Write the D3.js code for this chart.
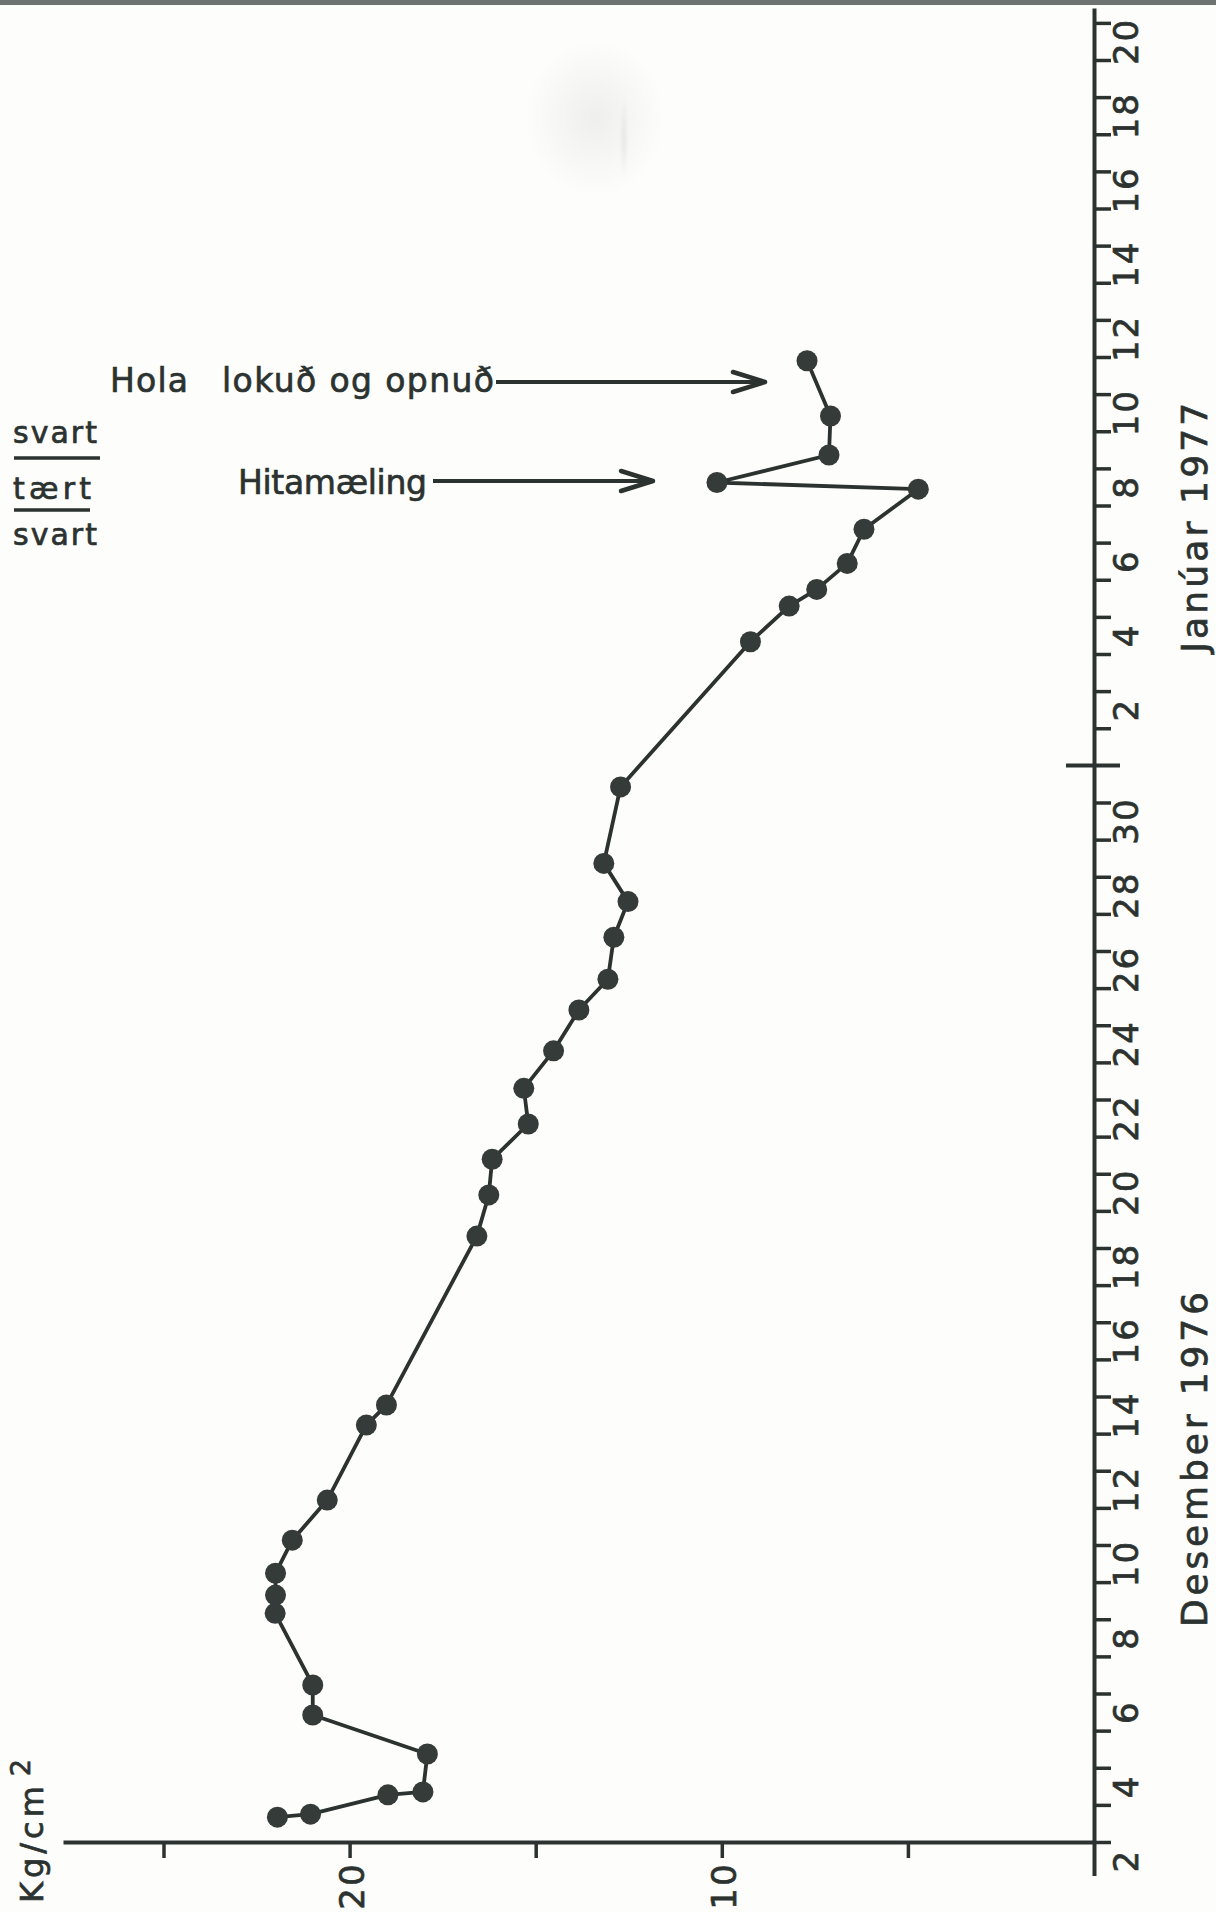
<!DOCTYPE html>
<html>
<head>
<meta charset="utf-8">
<script src="https://cdn.jsdelivr.net/npm/d3@7"></script>
<style>
  html, body { margin: 0; padding: 0; background: #fdfdfb; }
  svg { display: block; font-family: 'DejaVu Sans', sans-serif; }
  text { stroke: #2b3230; stroke-width: 0.7px; }
</style>
</head>
<body>
<svg width="1216" height="1912"></svg>
<script>
// time of each reading, in days counted from 1 Dec 1976 00:00
const dayTimes = [2.67, 2.75, 3.27, 3.35, 4.37, 5.42, 6.23, 8.16, 8.65, 9.24, 10.13, 11.21,
  13.23, 13.77, 18.32, 19.43, 20.39, 21.34, 22.30, 23.31, 24.41, 25.24, 26.37, 27.33,
  28.36, 30.42, 34.33, 35.29, 35.74, 36.44, 37.36, 38.44, 38.62, 39.36, 40.41, 41.90];
// pressure, kg/cm2
const pressure = [21.94, 21.05, 18.97, 18.03, 17.91, 20.99, 20.99, 22.0, 21.99, 21.99, 21.54, 20.6,
  19.55, 19.01, 16.58, 16.26, 16.17, 15.2, 15.32, 14.52, 13.84, 13.06, 12.9, 12.52,
  13.17, 12.72, 9.23, 8.19, 7.45, 6.63, 6.18, 4.72, 10.13, 7.12, 7.08, 7.71];

const decLabels = [2, 4, 6, 8, 10, 12, 14, 16, 18, 20, 22, 24, 26, 28, 30];
const janLabels = [2, 4, 6, 8, 10, 12, 14, 16, 18, 20];
const pressureTicks = [5, 10, 15, 20, 25];
const pressureLabels = [10, 20];

const INK = '#2b3230';
const svg = d3.select('svg');

// scanner edge at the top
svg.append('rect').attr('x', 0).attr('y', 0).attr('width', 1216).attr('height', 5)
  .style('fill', '#4a4f4d').style('opacity', 0.8);

const defs = svg.append('defs');
const grad = defs.append('radialGradient').attr('id', 'smudge');
grad.append('stop').attr('offset', '0%').attr('stop-color', '#bbb').attr('stop-opacity', 0.22);
grad.append('stop').attr('offset', '100%').attr('stop-color', '#bbb').attr('stop-opacity', 0);
svg.append('ellipse').attr('cx', 595).attr('cy', 118).attr('rx', 70).attr('ry', 78)
  .style('fill', 'url(#smudge)');
svg.append('ellipse').attr('cx', 624).attr('cy', 138).attr('rx', 5).attr('ry', 42)
  .style('fill', 'url(#smudge)');

const x = d3.scaleLinear().domain([0, 27.7]).range([1094, 63]);
const y = d3.scaleLinear().domain([2, 42]).range([1842, 357]);
const yAxisScale = y.copy().domain([1.1, 51.4]).range([y(1.1), y(51.4)]);

// day axis (vertical, right)
const dayAxis = svg.append('g')
  .attr('transform', `translate(${x(0)},0)`)
  .call(d3.axisRight(yAxisScale)
    .tickValues(d3.range(2, 52).filter(d => d !== 31))
    .tickSize(17)
    .tickSizeOuter(0)
    .tickFormat(''));
dayAxis.select('.domain').style('stroke', INK).style('stroke-width', 4);
dayAxis.selectAll('.tick line').style('stroke', INK).style('stroke-width', 3.5);

// month boundary
svg.append('line')
  .attr('x1', x(0) - 28).attr('x2', x(0) + 26)
  .attr('y1', y(31)).attr('y2', y(31))
  .style('stroke', INK).style('stroke-width', 4);

const dayLabels = decLabels.map(d => ({ t: d - 0.5, text: d }))
  .concat(janLabels.map(d => ({ t: 30.5 + d, text: d })));

svg.append('g').selectAll('text')
  .data(dayLabels)
  .join('text')
  .attr('transform', d => `translate(${x(0) + 44},${y(d.t)}) rotate(-90)`)
  .attr('text-anchor', 'middle')
  .style('font-size', '34px')
  .style('letter-spacing', '2px')
  .style('fill', INK)
  .text(d => d.text);

svg.append('text')
  .attr('transform', `translate(1207,${y(37.4)}) rotate(-90)`)
  .attr('text-anchor', 'middle')
  .attr('textLength', 250).attr('lengthAdjust', 'spacing')
  .style('font-size', '36px')
  .style('fill', INK)
  .text('Janúar 1977');

svg.append('text')
  .attr('transform', `translate(1207,${y(12.3)}) rotate(-90)`)
  .attr('text-anchor', 'middle')
  .attr('textLength', 335).attr('lengthAdjust', 'spacing')
  .style('font-size', '36px')
  .style('fill', INK)
  .text('Desember 1976');

// pressure axis (horizontal, bottom)
const pAxis = svg.append('g')
  .attr('transform', `translate(0,${y(2)})`)
  .call(d3.axisBottom(x)
    .tickValues(pressureTicks)
    .tickSize(16)
    .tickSizeOuter(0)
    .tickFormat(''));
pAxis.select('.domain').style('stroke', INK).style('stroke-width', 4);
pAxis.selectAll('.tick line').style('stroke', INK).style('stroke-width', 3.5);

svg.append('g').selectAll('text')
  .data(pressureLabels)
  .join('text')
  .attr('transform', d => `translate(${x(d) + 14},${y(2) + 44}) rotate(-90)`)
  .attr('text-anchor', 'middle')
  .style('font-size', '34px')
  .style('letter-spacing', '2px')
  .style('fill', INK)
  .text(d => d);

const unit = svg.append('text')
  .attr('transform', 'translate(43,1903) rotate(-90)')
  .attr('text-anchor', 'start')
  .style('font-size', '32px')
  .style('letter-spacing', '4px')
  .style('fill', INK);
unit.append('tspan').text('Kg/cm');
unit.append('tspan').attr('dx', 6).attr('dy', -13).style('font-size', '27px').text('2');

// pressure curve
const idx = d3.range(pressure.length);
svg.append('path')
  .datum(idx)
  .attr('d', d3.line().x(i => x(pressure[i])).y(i => y(dayTimes[i])))
  .style('fill', 'none')
  .style('stroke', INK)
  .style('stroke-width', 3.8)
  .style('stroke-linejoin', 'round');

svg.append('g').selectAll('circle')
  .data(idx)
  .join('circle')
  .attr('cx', i => x(pressure[i]))
  .attr('cy', i => y(dayTimes[i]))
  .attr('r', 10.5)
  .style('fill', '#343b39');

// annotations
function arrow(x1, x2, yy) {
  svg.append('line').attr('x1', x1).attr('x2', x2).attr('y1', yy).attr('y2', yy)
    .style('stroke', INK).style('stroke-width', 4);
  svg.append('path')
    .attr('d', `M${x2 - 32},${yy - 10} L${x2},${yy} L${x2 - 32},${yy + 10}`)
    .style('fill', 'none').style('stroke', INK).style('stroke-width', 4.5)
    .style('stroke-linejoin', 'round').style('stroke-linecap', 'round');
}

svg.append('text')
  .attr('x', 110).attr('y', 392)
  .attr('textLength', 78).attr('lengthAdjust', 'spacing')
  .style('font-size', '33px').style('fill', INK)
  .text('Hola');
svg.append('text')
  .attr('x', 222).attr('y', 392)
  .attr('textLength', 272).attr('lengthAdjust', 'spacing')
  .style('font-size', '33px').style('fill', INK)
  .text('lokuð og opnuð');
arrow(496, 765, 382);

svg.append('text')
  .attr('x', 238).attr('y', 494)
  .attr('textLength', 189).attr('lengthAdjust', 'spacing')
  .style('font-size', '33px').style('fill', INK)
  .text('Hitamæling');
arrow(433, 653, 481);

const legendRows = [
  { text: 'svart', y: 443, w: 84 },
  { text: 'tært', y: 499, w: 78 },
  { text: 'svart', y: 545, w: 84 }
];
svg.append('g').selectAll('text')
  .data(legendRows)
  .join('text')
  .attr('x', 13).attr('y', d => d.y)
  .attr('textLength', d => d.w).attr('lengthAdjust', 'spacing')
  .style('font-size', '30px').style('fill', INK)
  .text(d => d.text);

svg.append('g').selectAll('line')
  .data([{ y: 458, x2: 100 }, { y: 510, x2: 90 }])
  .join('line')
  .attr('x1', 14).attr('x2', d => d.x2)
  .attr('y1', d => d.y).attr('y2', d => d.y)
  .style('stroke', INK).style('stroke-width', 3.5);
</script>
</body>
</html>
